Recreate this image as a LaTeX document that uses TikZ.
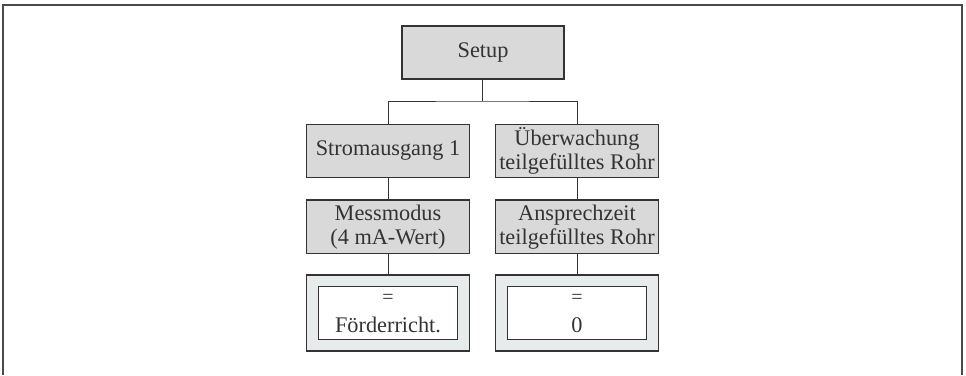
\documentclass[tikz,border=0pt]{standalone}
\usepackage{fontspec}
\setmainfont{Liberation Serif}
\definecolor{boxgray}{HTML}{D9D9D9}
\definecolor{valgray}{HTML}{E8EBEC}
\definecolor{linedark}{HTML}{333333}
\definecolor{framegray}{HTML}{4A4A4A}
\begin{document}
\begin{tikzpicture}[x=1pt,y=-1pt,
  menubox/.style={draw=linedark,line width=1.2pt,fill=boxgray,minimum width=163pt,minimum height=53pt,inner sep=0pt,align=center,font=\fontsize{22.3}{24}\selectfont,text=linedark},
  valouter/.style={draw=linedark,line width=1.2pt,fill=valgray,minimum width=163pt,minimum height=76pt,inner sep=0pt},
  valinner/.style={draw=linedark,line width=1.2pt,fill=white,minimum width=139pt,minimum height=53pt,inner sep=0pt,align=center,font=\fontsize{22.3}{29}\selectfont,text=linedark},
  conn/.style={draw=linedark,line width=1pt}]
\useasboundingbox (0,0) rectangle (966,375);
\draw[framegray,line width=2pt] (3,375) -- (3,5) -- (962,5) -- (962,375);
\node[menubox,minimum width=162pt] (setup) at (483,52.5) {Setup};
\node[menubox] (s1) at (388,150.8) {Stromausgang 1};
\node[menubox] (u) at (577,150.8) {Überwachung\\teilgefülltes Rohr};
\node[menubox,minimum height=53.3pt] (m) at (388,226.7) {Messmodus\\(4 mA-Wert)};
\node[menubox,minimum height=53.3pt] (a) at (577,226.7) {Ansprechzeit\\teilgefülltes Rohr};
\node[valouter] (fo) at (388,313) {};
\node[valinner] (fi) at (388,313.3) {{\fontsize{20}{20}\selectfont =}\\Förderricht.};
\node[valouter] (zo) at (577,313) {};
\node[valinner] (zi) at (577,313.3) {{\fontsize{20}{20}\selectfont =}\\0};
\coordinate (j) at (482,101);
\draw[conn] (setup.south -| j) -- (j);
\draw[conn] (s1.north) |- (j) -| (u.north);
\draw[conn] (s1) -- (m);
\draw[conn] (u) -- (a);
\draw[conn] (m) -- (fo);
\draw[conn] (a) -- (zo);
\end{tikzpicture}
\end{document}
